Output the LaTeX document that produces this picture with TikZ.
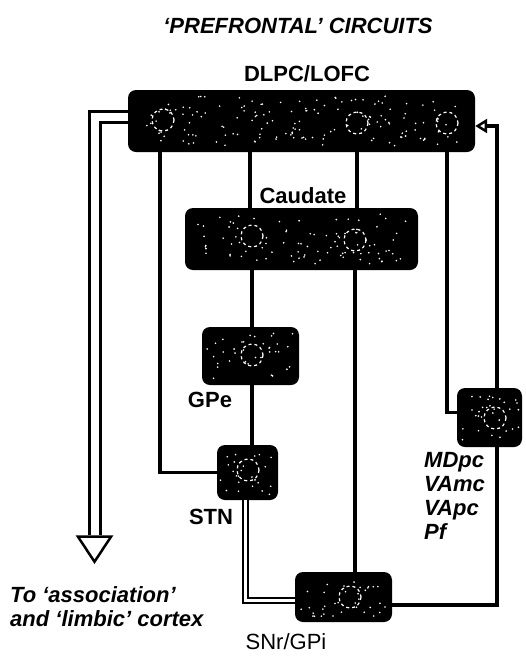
\documentclass[tikz,border=0pt]{standalone}
\usepackage{fontspec}
\setmainfont{Liberation Sans}
\usetikzlibrary{positioning,arrows.meta,shapes.geometric,calc}

\begin{document}
\begin{tikzpicture}[x=1pt,y=-1pt,
  nucleus/.style={fill=black,rounded corners=8pt,inner sep=0pt},
  lab/.style={font=\fontsize{22}{24}\selectfont\bfseries,inner sep=0pt},
  ilab/.style={font=\fontsize{22}{24}\selectfont\bfseries\itshape,align=left,inner sep=0pt},
  tract/.style={line width=3.5pt},
  hollow/.style={double,line width=3pt,double distance=8pt},
  cell/.style={white,dashed,line width=1.2pt}]
\useasboundingbox[fill=white] (0,0) rectangle (526,657);
\pgfmathsetseed{3}
% nuclei, speckled
\foreach \b/\cx/\cy/\w/\h/\n in {dlpc/301.5/121/347/62/150,caud/301.5/239/233/62/90,
    gpe/250.5/356/97/58/35,stn/247.5/472.5/61/55/25,snr/343.5/597/97/50/35,thal/489.5/417.5/65/59/30}{
  \node[nucleus,minimum width=\w,minimum height=\h] (\b) at (\cx,\cy) {};
  \foreach \i in {1,...,\n} \fill[white] (\cx+\w*0.45*rand,\cy+\h*0.4*rand) circle (0.9);
}
\foreach \p in {(163,120),(357,123),(447,123),(252,236),(355,240),(252,355),(248,470),(350,597),(495,418)}
  \draw[cell] \p circle (11);
\node[isosceles triangle,draw,fill=white,line width=2.5pt,shape border rotate=270,
  isosceles triangle stretches,minimum width=33,minimum height=25,inner sep=0pt,anchor=apex] (cortex) at (94.5,565) {};
% labels
\node[ilab] (title) at (298,26) {`PREFRONTAL' CIRCUITS};
\node[lab] (dlpclab) at (307,74) {DLPC/LOFC};
\node[lab,fill=white,inner sep=1pt] (caudlab) at (303,196) {Caudate};
\node[lab] (gpelab) at (210,400) {GPe};
\node[lab] (stnlab) at (211,517) {STN};
\node[lab,font=\fontsize{22}{24}\selectfont] (snrlab) at (286,642) {SNr/GPi};
\node[ilab,anchor=north west] (thallab) at (424,452) {MDpc\\VAmc\\VApc\\Pf};
\node[ilab,anchor=north west] (cortexlab) at (10,586) {To `association'\\and `limbic' cortex};
% connections
\draw[tract] (160,0 |- dlpc.south) |- (stn.west);
\draw[tract] (250,0 |- dlpc.south) -- (250,0 |- caud.north);
\draw[tract] (357,0 |- dlpc.south) -- (357,0 |- caud.north);
\draw[tract] (447,0 |- dlpc.south) |- ([yshift=5pt]thal.west);
\draw[tract] (252,0 |- caud.south) -- (252,0 |- gpe.north);
\draw[tract] (355,0 |- caud.south) -- (355,0 |- snr.north);
\draw[tract] (252,0 |- gpe.south) -- (252,0 |- stn.north);
\draw[double,line width=2pt,double distance=3pt] (245,0 |- stn.south) |- ([yshift=-3pt]snr.west);
\draw[tract] ([yshift=-8pt]snr.east) -| (497,0 |- thal.south);
\draw[tract,-{Triangle[open,length=12pt,width=14pt,line width=2.5pt]}] (497,0 |- thal.north) |- ([yshift=-5pt]dlpc.east);
\draw[hollow] ([yshift=4pt]dlpc.west) -| (cortex.north);
\end{tikzpicture}
\end{document}
